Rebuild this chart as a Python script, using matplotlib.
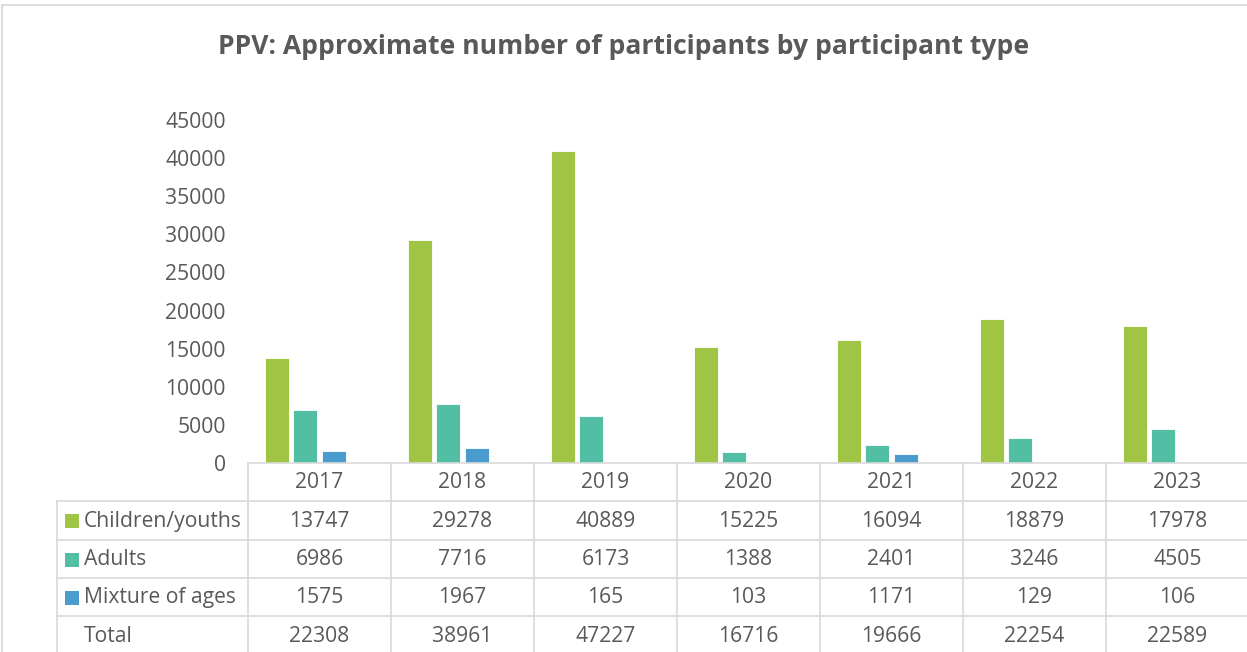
import matplotlib
matplotlib.use("Agg")
import matplotlib.pyplot as plt
from matplotlib.patches import Rectangle

years = ["2017", "2018", "2019", "2020", "2021", "2022", "2023"]
children = [13747, 29278, 40889, 15225, 16094, 18879, 17978]
adults = [6986, 7716, 6173, 1388, 2401, 3246, 4505]
mixture = [1575, 1967, 165, 103, 1171, 129, 106]
total = [22308, 38961, 47227, 16716, 19666, 22254, 22589]
series_names = ["Children/youths", "Adults", "Mixture of ages", "Total"]
colors = ["#A0C544", "#52BFA4", "#4A9CCF"]
title = "PPV: Approximate number of participants by participant type"

plt.rcParams['font.family'] = ['Open Sans', 'DejaVu Sans']
TXT = "#595959"
GRID = "#D9D9D9"

W, H = 1247, 652
fig = plt.figure(figsize=(W / 100, H / 100), dpi=100)

# chart border
fig.patches.append(Rectangle((2 / W, -0.1), 1.2, (H - 5) / H + 0.1, fill=False,
                             edgecolor=GRID, lw=1.3, transform=fig.transFigure))

x_left, x_right = 248, 1249
y_zero, y_top = 463, 120
ax = fig.add_axes([x_left / W, (H - y_zero) / H, (x_right - x_left) / W, (y_zero - y_top) / H])
n = len(years)
xs = list(range(n))
slot = 0.196
bw = 0.168
for k, vals in enumerate([children, adults, mixture]):
    ax.bar([x + (k - 1.5) * slot for x in xs], vals, width=bw, color=colors[k],
           edgecolor="white", linewidth=0.6, zorder=2)
ax.set_xlim(-0.5, n - 0.5)
ax.set_ylim(0, 45000)
ax.set_yticks(range(0, 45001, 5000))
ax.set_yticklabels([str(v) for v in range(0, 45001, 5000)], color=TXT, fontsize=15.2)
ax.tick_params(axis='y', length=0, pad=16)
ax.set_xticks([])
for s in ax.spines.values():
    s.set_visible(False)
ax.patch.set_alpha(0)

# data table
row_h = 38.3
nrows = 5
tab_bottom = y_zero + nrows * row_h
tax = fig.add_axes([x_left / W, (H - tab_bottom) / H, (x_right - x_left) / W, nrows * row_h / H])
tax.set_xlim(-0.5, n - 0.5)
tax.set_ylim(nrows, 0)
tax.axis('off')
px = 1.0 / 143.0
left_edge = -0.5 - (x_left - 57) * px
lw = 1.2
tax.plot([-0.5, n - 0.5], [0, 0], color=GRID, lw=lw, clip_on=False)
for r in range(1, nrows + 1):
    tax.plot([left_edge, n - 0.5], [r, r], color=GRID, lw=lw, clip_on=False)
for i in range(n + 1):
    tax.plot([i - 0.5, i - 0.5], [0, nrows], color=GRID, lw=lw, clip_on=False)
tax.plot([left_edge, left_edge], [1, nrows], color=GRID, lw=lw, clip_on=False)

fs = 15.2
for i, y in enumerate(years):
    tax.text(i, 0.52, y, ha='center', va='center', color=TXT, fontsize=fs)
rows = [children, adults, mixture, total]
label_x = -0.5 - (x_left - 84) * px
sq_x = -0.5 - (x_left - 72) * px
for r, (name, vals) in enumerate(zip(series_names, rows)):
    yc = r + 1.52
    tax.text(label_x, yc, name, ha='left', va='center', color=TXT, fontsize=fs, clip_on=False)
    if r < 3:
        tax.plot([sq_x], [yc], marker='s', markersize=10, color=colors[r], clip_on=False,
                 markeredgewidth=0)
    for i, v in enumerate(vals):
        tax.text(i, yc, str(v), ha='center', va='center', color=TXT, fontsize=fs)

fig.text(0.5, (H - 47) / H, title, ha='center', va='center', color=TXT,
         fontsize=19.1, fontweight='bold')

fig.savefig("out.png", dpi=100)
